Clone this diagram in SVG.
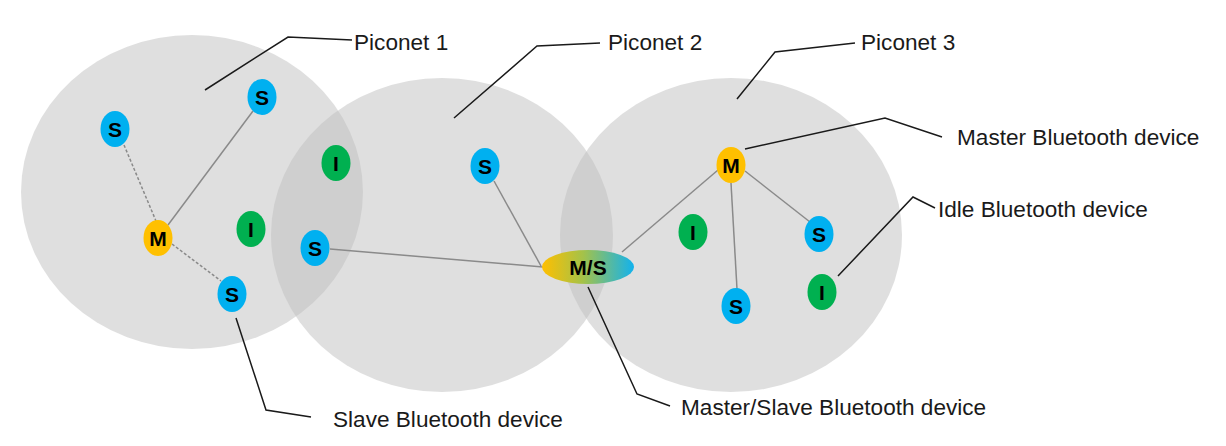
<svg xmlns="http://www.w3.org/2000/svg" width="1226" height="446" viewBox="0 0 1226 446">
<defs>
<linearGradient id="msGrad" x1="0" y1="0" x2="1" y2="0">
<stop offset="0" stop-color="#ffbf00"/>
<stop offset="0.45" stop-color="#a3c24a"/>
<stop offset="1" stop-color="#12b2ee"/>
</linearGradient>
<style>
.area{fill:#bfbfbf;fill-opacity:0.5}
.s{fill:#00b0f0}
.m{fill:#ffc000}
.i{fill:#00b050}
.lbl{font-family:"Liberation Sans",Arial,sans-serif;font-weight:bold;font-size:21px;fill:#000;text-anchor:middle}
.cap{font-family:"Liberation Sans",Arial,sans-serif;font-size:22.6px;fill:#1a1a1a}
.link{stroke:#8a8a8a;stroke-width:1.5;fill:none}
.dash{stroke:#8a8a8a;stroke-width:1.5;fill:none;stroke-dasharray:3 2}
.call{stroke:#1a1a1a;stroke-width:1.5;fill:none}
</style>
</defs>
<rect width="1226" height="446" fill="#ffffff"/>
<g id="piconets">
<ellipse id="piconet1-area" class="area" cx="192" cy="192" rx="171" ry="157"/>
<ellipse id="piconet2-area" class="area" cx="442" cy="235" rx="171" ry="157"/>
<ellipse id="piconet3-area" class="area" cx="731" cy="235" rx="171" ry="157"/>
</g>
<g id="connectors">
<line class="link" x1="168" y1="225" x2="253" y2="111"/>
<line class="dash" x1="124" y1="145" x2="156" y2="221"/>
<line class="dash" x1="172" y1="244" x2="221" y2="281"/>
<line class="link" x1="330" y1="249" x2="543" y2="267"/>
<line class="link" x1="494" y1="181" x2="541" y2="266"/>
<line class="link" x1="622" y1="252" x2="718" y2="170"/>
<line class="link" x1="731" y1="183" x2="737" y2="289"/>
<line class="link" x1="745" y1="171" x2="810" y2="222"/>
<polyline class="call" points="205,90 288,37 352,40"/>
<polyline class="call" points="454,118 537,46 600,43"/>
<polyline class="call" points="737,99 775,52 855,43"/>
<polyline class="call" points="745,149 885,118 942,137"/>
<polyline class="call" points="838,276 913,197 935,208"/>
<polyline class="call" points="236,318 266,410 311,417"/>
<polyline class="call" points="588,287 637,394 670,406"/>
</g>
<g id="p1-s1"><ellipse class="s" cx="115" cy="129" rx="14.5" ry="18"/><text class="lbl" x="115" y="136.5">S</text></g>
<g id="p1-s2"><ellipse class="s" cx="262" cy="97" rx="14.5" ry="18"/><text class="lbl" x="262" y="104.5">S</text></g>
<g id="p1-m"><ellipse class="m" cx="158" cy="238" rx="14.5" ry="18"/><text class="lbl" x="158" y="245.5">M</text></g>
<g id="p1-i"><ellipse class="i" cx="251" cy="229" rx="14.5" ry="18"/><text class="lbl" x="251" y="236.5">I</text></g>
<g id="p1-s3"><ellipse class="s" cx="232" cy="294" rx="14.5" ry="18"/><text class="lbl" x="232" y="301.5">S</text></g>
<g id="p2-i"><ellipse class="i" cx="336" cy="163" rx="14.5" ry="18"/><text class="lbl" x="336" y="170.5">I</text></g>
<g id="p2-s1"><ellipse class="s" cx="315" cy="248" rx="14.5" ry="18"/><text class="lbl" x="315" y="255.5">S</text></g>
<g id="p2-s2"><ellipse class="s" cx="485" cy="166" rx="14.5" ry="18"/><text class="lbl" x="485" y="173.5">S</text></g>
<g id="ms"><ellipse cx="588" cy="267" rx="46" ry="17" fill="url(#msGrad)"/><text class="lbl" x="588" y="274.5">M/S</text></g>
<g id="p3-m"><ellipse class="m" cx="731" cy="165" rx="14.5" ry="18"/><text class="lbl" x="731" y="172.5">M</text></g>
<g id="p3-i1"><ellipse class="i" cx="693" cy="232" rx="14.5" ry="18"/><text class="lbl" x="693" y="239.5">I</text></g>
<g id="p3-s1"><ellipse class="s" cx="736" cy="306" rx="14.5" ry="18"/><text class="lbl" x="736" y="313.5">S</text></g>
<g id="p3-s2"><ellipse class="s" cx="819" cy="234" rx="14.5" ry="18"/><text class="lbl" x="819" y="241.5">S</text></g>
<g id="p3-i2"><ellipse class="i" cx="822" cy="292" rx="14.5" ry="18"/><text class="lbl" x="822" y="299.5">I</text></g>
<g id="captions">
<text class="cap" x="354" y="50">Piconet 1</text>
<text class="cap" x="608" y="50">Piconet 2</text>
<text class="cap" x="861" y="50">Piconet 3</text>
<text class="cap" x="957" y="145">Master Bluetooth device</text>
<text class="cap" x="938" y="217">Idle Bluetooth device</text>
<text class="cap" x="333" y="427">Slave Bluetooth device</text>
<text class="cap" x="681" y="415">Master/Slave Bluetooth device</text>
</g>
</svg>
